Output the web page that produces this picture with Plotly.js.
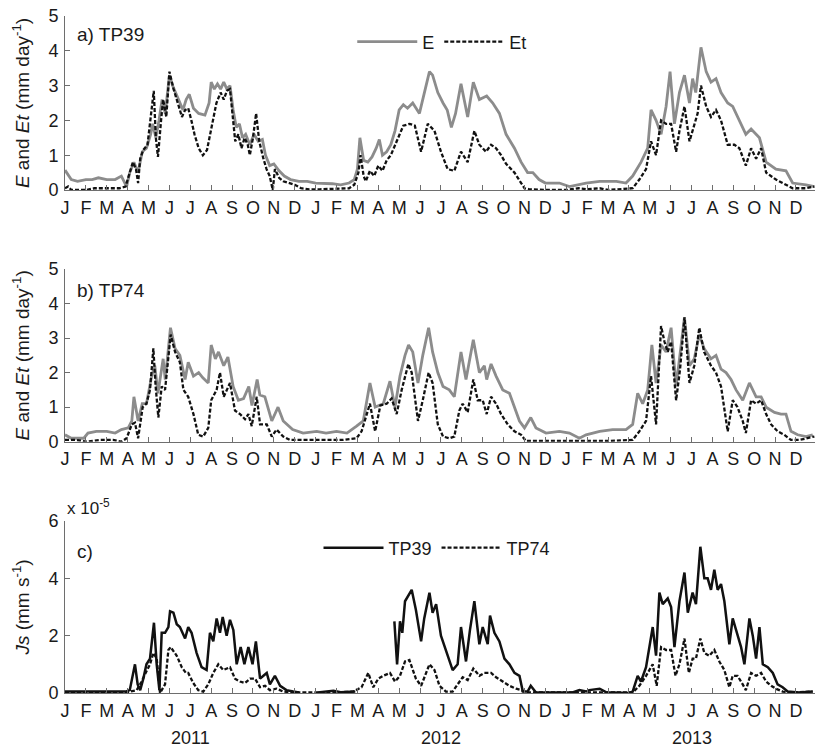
<!DOCTYPE html>
<html><head><meta charset="utf-8">
<script src="https://cdn.plot.ly/plotly-3.0.1.min.js"></script>
<style>html,body{margin:0;padding:0;background:#fff}#chart{width:815px;height:753px}</style>
</head><body><div id="chart"></div>
<script>
// x = months since 1 Jan 2011 (0 = Jan 2011, 12 = Jan 2012, 24 = Jan 2013)
const monthLetters = ['J','F','M','A','M','J','J','A','S','O','N','D'];
const years = ['2011','2012','2013'];

// Panel a) TP39 : E and Et (mm day-1)
const tp39_E = [[0,0.57],[0.3,0.3],[0.6,0.25],[1.0,0.3],[1.3,0.3],[1.6,0.35],[2.0,0.3],[2.4,0.3],[2.7,0.4],[2.95,0.1],[3.1,0.5],[3.3,0.8],[3.5,0.5],[3.7,1.1],[3.9,1.2],[4.1,1.6],[4.2,1.9],[4.35,1.5],[4.5,2.0],[4.65,2.6],[4.8,2.2],[5.0,3.3],[5.15,3.0],[5.35,2.7],[5.5,2.5],[5.65,2.3],[5.8,2.6],[5.95,2.75],[6.15,2.35],[6.4,2.2],[6.7,2.15],[6.9,2.5],[7.0,3.1],[7.15,2.9],[7.3,3.05],[7.45,2.9],[7.6,3.1],[7.75,2.9],[7.9,3.0],[8.05,2.3],[8.2,1.8],[8.35,1.9],[8.5,1.5],[8.65,1.6],[8.85,1.3],[9.05,1.6],[9.25,1.4],[9.45,1.45],[9.6,1.0],[9.8,0.7],[10.0,0.75],[10.25,0.55],[10.5,0.4],[10.8,0.3],[11.2,0.25],[11.6,0.25],[12.0,0.2],[12.4,0.2],[12.8,0.18],[13.2,0.15],[13.6,0.2],[13.85,0.3],[14.0,0.6],[14.12,1.5],[14.3,0.85],[14.5,0.8],[14.7,0.95],[14.9,1.2],[15.05,1.45],[15.2,1.0],[15.4,1.1],[15.6,1.3],[15.8,1.7],[16.0,2.3],[16.2,2.45],[16.4,2.35],[16.65,2.5],[16.97,2.2],[17.2,2.8],[17.45,3.4],[17.6,3.3],[17.85,2.8],[18.1,2.5],[18.3,2.3],[18.5,1.8],[18.7,2.2],[18.96,3.05],[19.28,2.1],[19.55,3.1],[19.84,2.6],[20.19,2.7],[20.48,2.5],[20.8,2.2],[21.12,1.6],[21.52,1.2],[21.84,0.8],[22.15,0.5],[22.4,0.5],[22.7,0.3],[23.0,0.2],[23.67,0.2],[24.15,0.1],[24.95,0.2],[25.6,0.25],[26.4,0.25],[26.86,0.2],[27.18,0.4],[27.58,0.8],[27.9,1.2],[28.06,2.3],[28.3,2.0],[28.54,1.6],[28.78,2.4],[28.97,3.4],[29.18,1.9],[29.42,2.8],[29.66,3.3],[29.9,2.5],[30.05,3.2],[30.2,2.8],[30.45,4.1],[30.7,3.4],[30.93,3.1],[31.17,3.2],[31.41,2.8],[31.73,2.5],[31.97,2.4],[32.29,2.0],[32.6,1.6],[32.85,1.75],[33.25,1.5],[33.57,0.8],[34.04,0.6],[34.52,0.55],[34.84,0.2],[35.48,0.15],[35.88,0.1]];
const tp39_Et = [[0,0.05],[0.15,0.1],[0.3,0.0],[1.0,0.0],[1.4,0.05],[1.8,0.05],[2.2,0.05],[2.6,0.05],[2.9,0.1],[3.1,0.5],[3.25,0.8],[3.4,0.6],[3.5,0.2],[3.6,0.9],[3.75,1.15],[3.95,1.3],[4.1,2.0],[4.25,2.85],[4.35,1.5],[4.45,0.95],[4.6,2.0],[4.7,2.6],[4.85,2.1],[5.0,3.4],[5.2,2.9],[5.4,2.5],[5.6,2.1],[5.75,2.3],[5.9,2.35],[6.05,2.0],[6.2,1.6],[6.4,1.2],[6.6,1.0],[6.8,1.15],[6.95,1.6],[7.1,2.1],[7.25,2.5],[7.45,2.8],[7.6,2.6],[7.75,2.85],[7.9,2.9],[8.05,2.0],[8.15,1.4],[8.3,1.6],[8.45,1.2],[8.6,1.5],[8.75,1.3],[8.85,1.0],[9.0,1.5],[9.15,2.2],[9.3,1.4],[9.5,0.9],[9.65,0.6],[9.8,0.4],[9.95,0.0],[10.05,0.6],[10.25,0.35],[10.45,0.25],[10.7,0.2],[11.0,0.15],[11.3,0.05],[11.7,0.02],[12.2,0.02],[12.7,0.03],[13.2,0.05],[13.6,0.05],[13.85,0.15],[14.05,0.5],[14.15,1.0],[14.3,0.4],[14.4,0.25],[14.6,0.55],[14.8,0.4],[15.0,0.7],[15.2,0.55],[15.4,0.85],[15.6,1.0],[15.8,1.3],[16.0,1.6],[16.2,1.85],[16.5,1.9],[16.75,1.85],[17.05,1.1],[17.37,1.9],[17.69,1.7],[18.0,1.1],[18.32,0.6],[18.64,0.55],[18.96,1.1],[19.28,0.8],[19.6,1.7],[19.84,1.3],[20.16,1.1],[20.4,1.3],[20.64,1.2],[20.88,1.0],[21.12,0.75],[21.52,0.5],[21.84,0.2],[22.0,0.05],[22.23,0.02],[23.0,0.0],[24.0,0.0],[24.6,0.05],[25.0,0.02],[25.6,0.05],[26.0,0.0],[27.18,0.05],[27.5,0.3],[27.82,0.6],[28.06,1.4],[28.3,1.0],[28.54,2.0],[28.78,1.9],[29.02,1.9],[29.26,1.1],[29.42,1.7],[29.66,2.4],[29.9,1.4],[30.13,1.9],[30.29,2.2],[30.45,3.0],[30.7,2.4],[30.93,2.1],[31.17,2.3],[31.41,2.0],[31.73,1.3],[32.05,1.3],[32.29,1.2],[32.6,0.7],[32.85,1.2],[33.09,0.9],[33.33,1.2],[33.57,0.5],[34.04,0.3],[34.52,0.15],[34.84,0.05],[35.48,0.05],[35.88,0.1]];

// Panel b) TP74 : E and Et (mm day-1)
const tp74_E = [[0,0.2],[0.3,0.1],[0.9,0.1],[1.1,0.25],[1.5,0.3],[2.0,0.3],[2.4,0.25],[2.7,0.35],[3.03,0.4],[3.2,0.6],[3.3,1.3],[3.5,0.6],[3.7,1.1],[3.9,1.1],[4.15,1.9],[4.3,2.2],[4.45,1.4],[4.7,2.4],[4.8,1.8],[5.05,3.3],[5.27,2.7],[5.5,2.5],[5.75,1.8],[5.9,2.3],[6.15,1.9],[6.4,2.0],[6.6,1.85],[6.86,1.7],[7.0,2.8],[7.2,2.4],[7.35,2.6],[7.6,2.2],[7.8,2.45],[8.05,1.6],[8.3,1.2],[8.55,1.25],[8.8,1.6],[8.95,1.05],[9.2,1.8],[9.33,1.35],[9.57,1.3],[9.9,0.6],[10.2,1.0],[10.45,0.6],[10.9,0.35],[11.4,0.25],[12.05,0.3],[12.5,0.25],[13.0,0.3],[13.5,0.25],[13.96,0.45],[14.28,0.6],[14.6,1.7],[14.85,1.0],[15.24,1.1],[15.56,1.75],[15.8,1.0],[16.04,1.9],[16.28,2.5],[16.45,2.8],[16.65,2.6],[16.9,1.7],[17.13,2.5],[17.41,3.3],[17.6,2.6],[17.85,2.0],[18.1,1.6],[18.4,1.5],[18.64,1.3],[18.96,2.6],[19.2,1.8],[19.55,2.95],[19.84,2.0],[20.08,2.2],[20.19,1.8],[20.4,2.25],[20.64,1.9],[20.96,1.5],[21.28,1.4],[21.52,1.0],[21.76,0.6],[22.0,0.4],[22.3,0.7],[22.55,0.4],[23.03,0.25],[23.67,0.3],[24.15,0.25],[24.63,0.1],[24.95,0.2],[25.6,0.3],[26.22,0.35],[26.86,0.35],[27.18,0.5],[27.42,1.4],[27.66,1.1],[27.9,1.5],[28.1,2.8],[28.3,1.7],[28.54,2.8],[28.78,2.6],[29.02,3.3],[29.26,1.6],[29.66,3.6],[29.9,2.2],[30.13,2.4],[30.37,3.1],[30.6,2.7],[30.93,2.4],[31.17,2.5],[31.41,2.1],[31.65,2.0],[31.89,1.8],[32.13,1.5],[32.45,1.2],[32.77,1.7],[33.09,1.3],[33.33,1.3],[33.57,1.0],[33.97,0.85],[34.28,0.8],[34.52,0.8],[34.76,0.3],[35.08,0.2],[35.48,0.15],[35.8,0.2]];
const tp74_Et = [[0,0.05],[0.56,0.05],[1.04,0.0],[1.68,0.05],[2.3,0.05],[2.7,0.0],[2.95,0.1],[3.2,0.5],[3.35,0.55],[3.5,0.1],[3.72,1.0],[3.9,1.1],[4.07,1.5],[4.23,2.7],[4.34,1.6],[4.47,0.7],[4.63,1.6],[4.79,1.5],[5.06,3.1],[5.27,2.6],[5.5,2.3],[5.67,1.5],[5.9,1.3],[6.15,0.8],[6.38,0.2],[6.62,0.15],[6.86,0.4],[7.0,1.2],[7.26,1.5],[7.42,2.0],[7.6,1.3],[7.9,1.7],[8.14,0.9],[8.38,0.8],[8.62,0.65],[8.78,0.8],[8.94,0.45],[9.18,1.3],[9.34,0.5],[9.66,0.5],[9.9,0.15],[10.13,0.35],[10.45,0.15],[10.77,0.05],[11.25,0.05],[12.05,0.05],[12.7,0.05],[13.3,0.05],[13.96,0.1],[14.2,0.3],[14.6,1.1],[14.85,0.3],[15.1,1.05],[15.4,1.1],[15.64,1.25],[15.88,0.8],[16.12,1.5],[16.44,2.25],[16.6,2.0],[16.9,0.6],[17.13,1.2],[17.41,2.0],[17.6,1.7],[17.85,0.5],[18.1,0.15],[18.4,0.1],[18.64,0.15],[18.88,0.9],[19.04,1.1],[19.28,0.85],[19.55,1.8],[19.76,1.2],[20.0,1.2],[20.19,0.8],[20.4,1.3],[20.64,1.1],[20.88,0.8],[21.2,0.5],[21.52,0.3],[21.84,0.2],[22.07,0.02],[23.0,0.02],[24.0,0.02],[25.0,0.02],[26.0,0.02],[27.18,0.05],[27.5,0.3],[27.82,0.6],[28.06,1.9],[28.3,0.5],[28.54,3.35],[28.7,2.9],[28.86,2.6],[29.02,2.9],[29.26,1.2],[29.45,2.1],[29.66,3.6],[29.9,1.7],[30.13,2.2],[30.37,3.3],[30.6,2.6],[30.93,2.2],[31.17,2.0],[31.41,1.6],[31.57,1.0],[31.73,0.3],[31.97,1.2],[32.2,1.0],[32.45,0.6],[32.6,0.25],[32.85,1.2],[33.09,1.1],[33.33,1.2],[33.57,0.8],[33.81,0.5],[34.12,0.3],[34.44,0.2],[34.76,0.05],[35.16,0.05],[35.48,0.1],[35.88,0.15]];

// Panel c) sap flux Js, in units of 1e-5 mm s-1 (null = missing data)
const js_TP39 = [[0,0.05],[0.5,0.05],[1.0,0.03],[1.5,0.05],[2.0,0.05],[2.5,0.03],[2.9,0.05],[3.1,0.1],[3.35,1.0],[3.48,0.3],[3.6,0.1],[3.75,0.5],[3.9,1.0],[4.07,1.2],[4.26,2.45],[4.39,1.0],[4.52,0.1],[4.63,2.1],[4.79,2.1],[4.95,2.3],[5.03,2.85],[5.19,2.8],[5.35,2.4],[5.5,2.3],[5.75,1.9],[5.9,2.3],[6.06,2.1],[6.3,1.4],[6.54,0.9],[6.78,0.8],[6.94,2.1],[7.1,1.8],[7.26,2.6],[7.42,2.1],[7.55,2.65],[7.74,2.0],[7.9,2.55],[8.06,2.2],[8.22,1.0],[8.41,1.6],[8.59,1.0],[8.78,1.6],[8.98,1.0],[9.14,1.8],[9.34,0.5],[9.5,0.6],[9.66,0.7],[9.81,0.3],[10.05,0.6],[10.3,0.25],[10.6,0.1],[10.93,0.05],[11.2,0.02],[11.5,null],[12.1,0.02],[12.6,0.05],[12.85,0.08],[13.2,0.03],[13.6,0.03],[13.9,0.05],[14.5,null],[15.77,2.5],[15.9,1.0],[16.04,2.5],[16.15,2.1],[16.28,3.2],[16.52,3.5],[16.6,3.6],[16.8,2.9],[17.05,1.8],[17.2,2.6],[17.45,3.5],[17.6,2.8],[17.77,3.1],[18.0,2.0],[18.24,1.5],[18.56,0.8],[18.8,1.0],[18.96,2.3],[19.2,1.1],[19.39,2.2],[19.6,3.2],[19.84,1.7],[20.0,2.3],[20.24,1.7],[20.35,2.7],[20.56,2.1],[20.8,1.8],[21.04,1.2],[21.28,1.0],[21.52,0.7],[21.76,0.6],[21.92,0.05],[22.15,0.05],[22.3,0.25],[22.55,0.02],[23.5,0.02],[24.3,0.02],[24.63,0.1],[24.95,0.05],[25.1,0.1],[25.6,0.15],[25.9,0.03],[26.5,0.02],[27.0,0.0],[27.18,0.05],[27.42,0.6],[27.58,0.4],[27.82,0.9],[28.14,2.3],[28.3,1.3],[28.46,3.5],[28.62,3.1],[28.86,3.3],[29.02,3.0],[29.18,1.6],[29.42,3.2],[29.66,4.2],[29.82,2.8],[30.05,3.5],[30.21,3.1],[30.42,5.1],[30.61,4.0],[30.77,4.0],[30.93,3.6],[31.09,4.3],[31.25,3.6],[31.41,3.8],[31.57,3.2],[31.81,1.7],[31.97,2.6],[32.13,2.2],[32.37,1.6],[32.53,1.0],[32.77,2.6],[32.93,2.0],[33.09,1.2],[33.25,2.3],[33.41,1.0],[33.65,0.9],[33.89,0.7],[34.12,0.3],[34.36,0.2],[34.6,0.05],[35.16,0.02],[35.8,0.05]];
const js_TP74 = [[0,0.03],[1.0,0.03],[2.0,0.03],[3.0,0.03],[3.43,0.1],[3.67,0.4],[3.86,0.7],[4.07,1.0],[4.23,1.4],[4.39,1.2],[4.55,0.0],[4.79,0.3],[4.95,1.5],[5.06,1.6],[5.35,1.3],[5.59,0.9],[5.79,0.7],[5.9,0.7],[6.14,0.35],[6.38,0.1],[6.62,0.05],[6.86,0.3],[7.1,0.7],[7.34,1.0],[7.58,0.8],[7.9,0.9],[8.14,0.5],[8.38,0.4],[8.62,0.35],[8.86,0.5],[9.1,0.5],[9.34,0.2],[9.58,0.25],[9.81,0.1],[10.13,0.15],[10.45,0.05],[10.9,0.02],[12.0,0.02],[13.0,0.02],[13.8,0.05],[14.2,0.2],[14.52,0.7],[14.76,0.2],[15.0,0.5],[15.24,0.6],[15.56,0.7],[15.8,0.4],[16.04,0.6],[16.28,1.1],[16.49,1.15],[16.8,0.5],[17.05,0.25],[17.45,1.0],[17.69,0.8],[17.93,0.25],[18.24,0.05],[18.56,0.05],[18.8,0.3],[19.04,0.55],[19.28,0.45],[19.55,0.85],[19.84,0.6],[20.08,0.7],[20.4,0.7],[20.64,0.55],[20.96,0.4],[21.28,0.25],[21.6,0.15],[21.84,0.1],[22.07,0.02],[24.0,0.02],[26.0,0.02],[27.18,0.02],[27.5,0.25],[27.82,0.6],[28.14,1.0],[28.33,0.25],[28.54,1.6],[28.78,1.5],[29.02,1.5],[29.23,0.6],[29.42,1.0],[29.66,1.9],[29.87,0.7],[30.05,1.2],[30.21,1.2],[30.42,1.9],[30.61,1.4],[30.85,1.3],[31.09,1.5],[31.33,1.1],[31.57,0.8],[31.81,0.2],[31.97,0.6],[32.2,0.6],[32.45,0.3],[32.6,0.1],[32.85,0.7],[33.09,0.6],[33.33,0.7],[33.57,0.4],[33.81,0.25],[34.04,0.15],[34.36,0.05],[34.8,0.02],[35.8,0.05]];

const X = p => p.map(d => d[0]);
const Y = p => p.map(d => d[1]);

const grey = '#8c8c8c', black = '#111111';
const dashStyle = '4px,2px';
const FS = 18;

const traces = [
  {x:X(tp39_E), y:Y(tp39_E), xaxis:'x', yaxis:'y', mode:'lines', name:'E', line:{color:grey, width:2.8}, legend:'legend'},
  {x:X(tp39_Et), y:Y(tp39_Et), xaxis:'x', yaxis:'y', mode:'lines', name:'Et', line:{color:black, width:2.3, dash:dashStyle}, legend:'legend'},
  {x:X(tp74_E), y:Y(tp74_E), xaxis:'x2', yaxis:'y2', mode:'lines', name:'E', line:{color:grey, width:2.8}, showlegend:false},
  {x:X(tp74_Et), y:Y(tp74_Et), xaxis:'x2', yaxis:'y2', mode:'lines', name:'Et', line:{color:black, width:2.3, dash:dashStyle}, showlegend:false},
  {x:X(js_TP39), y:Y(js_TP39), xaxis:'x3', yaxis:'y3', mode:'lines', name:'TP39', line:{color:black, width:2.5}, legend:'legend2', connectgaps:false},
  {x:X(js_TP74), y:Y(js_TP74), xaxis:'x3', yaxis:'y3', mode:'lines', name:'TP74', line:{color:black, width:2.3, dash:dashStyle}, legend:'legend2'}
];

const nMonths = monthLetters.length * years.length;
const tickvals = Array.from({length:nMonths}, (_, i) => i);
const ticktext = tickvals.map(i => monthLetters[i % 12]);

const axCol = '#6e6e6e';
function xAxis(anchor) {
  return {anchor:anchor, domain:[0,1], range:[0,35.91], tickmode:'array', tickvals:tickvals, ticktext:ticktext,
    ticks:'inside', ticklen:5, tickcolor:axCol, showline:true, linecolor:axCol, linewidth:1,
    showgrid:false, zeroline:false, fixedrange:true, tickfont:{size:FS}, ticklabelstandoff:1};
}
function yAxis(anchor, domain, range, dtick, title) {
  return {anchor:anchor, domain:domain, range:range, dtick:dtick, tick0:0, ticks:'inside', ticklen:5, tickcolor:axCol,
    showline:true, linecolor:axCol, linewidth:1, showgrid:false, zeroline:false, fixedrange:true,
    tickfont:{size:FS}, ticklabelstandoff:2, title:{text:title, font:{size:19}, standoff:13}};
}

const layout = {
  width:815, height:753,
  margin:{l:65, r:0, t:16, b:60, pad:0},
  paper_bgcolor:'#fff', plot_bgcolor:'#fff',
  font:{family:'Liberation Sans, Arial, sans-serif', size:FS, color:'#1a1a1a'},
  xaxis: xAxis('y'), xaxis2: xAxis('y2'), xaxis3: xAxis('y3'),
  yaxis: yAxis('x', [0.743,1], [0,5], 1, '<i>E</i> and <i>Et</i> (mm day<sup>-1</sup>)'),
  yaxis2: yAxis('x2', [0.3712,0.6263], [0,5], 1, '<i>E</i> and <i>Et</i> (mm day<sup>-1</sup>)'),
  yaxis3: yAxis('x3', [0,0.2541], [0,6], 2, '<i>Js</i> (mm s<sup>-1</sup>)'),
  legend:{orientation:'h', x:0.383, y:0.9616, xanchor:'left', yanchor:'middle', bgcolor:'rgba(0,0,0,0)', font:{size:FS}, itemwidth:60},
  legend2:{orientation:'h', x:0.338, y:0.2142, xanchor:'left', yanchor:'middle', bgcolor:'rgba(0,0,0,0)', font:{size:FS}, itemwidth:60},
  annotations:[
    {text:'a) TP39', xref:'paper', yref:'paper', x:0.0133, y:0.972, xanchor:'left', yanchor:'middle', showarrow:false, font:{size:19}},
    {text:'b) TP74', xref:'paper', yref:'paper', x:0.0133, y:0.5938, xanchor:'left', yanchor:'middle', showarrow:false, font:{size:19}},
    {text:'c)', xref:'paper', yref:'paper', x:0.0133, y:0.2097, xanchor:'left', yanchor:'middle', showarrow:false, font:{size:19}},
    {text:'x 10<sup>-5</sup>', xref:'paper', yref:'paper', x:0, y:0.2747, xanchor:'left', yanchor:'middle', showarrow:false, font:{size:17}}
  ].concat(years.map((yr, i) => ({text:yr, xref:'x3', yref:'paper', x:6 + 12*i, y:-0.0665, xanchor:'center', yanchor:'middle', showarrow:false, font:{size:FS}})))
};

Plotly.newPlot('chart', traces, layout, {staticPlot:true, displayModeBar:false});
</script></body></html>
